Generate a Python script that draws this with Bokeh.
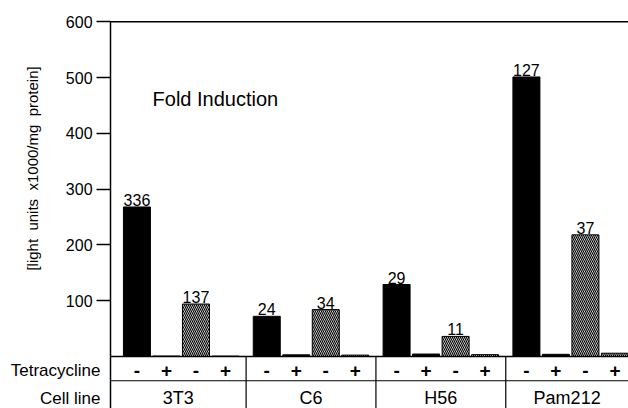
import math
from bokeh.plotting import figure
from bokeh.models import Range1d, FixedTicker
from bokeh.core.properties import value
from bokeh.embed import file_html
from bokeh.resources import INLINE

# ---------------- data ----------------
cell_lines = ["3T3", "C6", "H56", "Pam212"]
tetracycline = ["-", "+", "-", "+"]
solid_minus = [268, 72, 129, 501]
solid_plus = [0.8, 3.0, 4.4, 3.9]
hatched_minus = [94, 84, 36, 218]
hatched_plus = [0.7, 2.5, 3.3, 5.9]
fold_solid = ["336", "24", "29", "127"]
fold_hatched = ["137", "34", "11", "37"]
y_ticks = [100, 200, 300, 400, 500, 600]
row_titles = ["Tetracycline", "Cell line"]
y_title = "[light\u00a0 units\u00a0 x1000/mg\u00a0 protein]"

# ---------------- layout helpers ----------------
GROUP = 4.4
BAR_W = 0.915
FONT = "Liberation Sans"
X_MIN, X_MAX = -4.624, 16.66      # whole canvas is the frame
AX_X = -0.895                     # where the value axis stands
Y_MIN, Y_MAX = -93.2, 638.0
Y_TOP = 600
ROW_TET, ROW_CELL, ROW_LINE = -25, -75, -43.5


def pos(g, s):
    return g * GROUP + s


n = len(cell_lines)
solid_x = [pos(g, s) for g in range(n) for s in (0, 1)]
solid_top = [v for pair in zip(solid_minus, solid_plus) for v in pair]
hatched_x = [pos(g, s) for g in range(n) for s in (2, 3)]
hatched_top = [v for pair in zip(hatched_minus, hatched_plus) for v in pair]
div_x = [pos(g, 0) - 0.7 for g in range(1, n)]
cell_edges = [AX_X] + div_x + [X_MAX]
cell_mid = [(a + b) / 2 for a, b in zip(cell_edges[:-1], cell_edges[1:])]

p = figure(width=628, height=408,
           x_range=Range1d(X_MIN, X_MAX), y_range=Range1d(Y_MIN, Y_MAX),
           output_backend="svg", toolbar_location=None, x_axis_location=None,
           min_border=0, min_border_left=0, min_border_right=0,
           min_border_top=0, min_border_bottom=0)
p.outline_line_color = None
p.grid.visible = False

# bars
p.vbar(x=solid_x, top=solid_top, bottom=0, width=BAR_W,
       fill_color="black", line_color="black", line_width=1)
p.vbar(x=hatched_x, top=hatched_top, bottom=0, width=BAR_W,
       fill_color="white", line_color="black", line_width=1,
       hatch_pattern="\\", hatch_color="black", hatch_scale=4, hatch_weight=1.2)

# fold labels
lab_font = dict(text_font=value(FONT), text_font_size="16px", text_color="black",
                text_align="center", text_baseline="bottom", y_offset=-1)
p.text(x=[pos(g, 0) for g in range(n)], y=solid_minus, text=fold_solid, **lab_font)
p.text(x=[pos(g, 2) for g in range(n)], y=hatched_minus, text=fold_hatched, **lab_font)

# value axis, pinned inside the frame
ax = p.yaxis[0]
ax.fixed_location = AX_X
ax.bounds = (Y_MIN, Y_TOP)
ax.ticker = FixedTicker(ticks=y_ticks)
ax.major_tick_out = 14
ax.major_tick_in = 0
ax.minor_tick_line_color = None
ax.axis_line_width = 1.5
ax.major_tick_line_width = 1.5
ax.major_label_text_font = FONT
ax.major_label_text_font_size = "16px"
ax.major_label_text_color = "black"
ax.major_label_standoff = 4

# frame top line, baseline and table lines
h_y = [Y_TOP, 0, ROW_LINE]
p.segment(x0=[AX_X] * 3, y0=h_y, x1=[X_MAX] * 3, y1=h_y,
          line_color="black", line_width=[1.5, 1.5, 1.2])
p.segment(x0=div_x, y0=[Y_MIN] * len(div_x), x1=div_x, y1=[0] * len(div_x),
          line_color="black", line_width=1.2)

# table texts
p.text(x=[pos(g, s) for g in range(n) for s in range(4)], y=[ROW_TET] * (4 * n),
       text=tetracycline * n, text_font=value(FONT), text_font_size="19px",
       text_font_style="bold", text_align="center", text_baseline="middle")
p.text(x=cell_mid, y=[ROW_CELL] * n, text=cell_lines,
       text_font=value(FONT), text_font_size="18px", text_align="center",
       text_baseline="middle")
p.text(x=[-1.234, -1.234], y=[ROW_TET, ROW_CELL], text=row_titles,
       text_font=value(FONT), text_font_size="17px", text_align="right",
       text_baseline="middle")

# y title and inner title
p.text(x=[-3.54], y=[337], text=[y_title], angle=math.pi / 2,
       text_font=value(FONT), text_font_size="15px", text_align="center",
       text_baseline="middle")
p.text(x=[0.53], y=[462], text=["Fold Induction"], text_font=value(FONT),
       text_font_size="20px", text_align="left", text_baseline="middle")

open("out.html", "w").write(file_html(p, INLINE))
